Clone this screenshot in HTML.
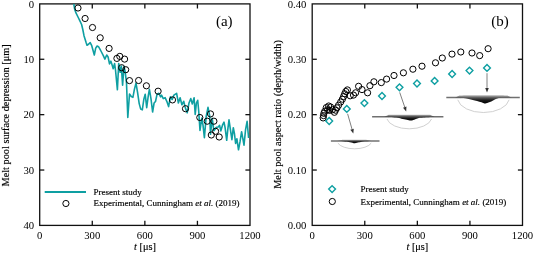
<!DOCTYPE html>
<html><head><meta charset="utf-8"><style>
html,body{margin:0;padding:0;background:#fff;}
body{width:533px;height:254px;overflow:hidden;font-family:"Liberation Serif",serif;}
svg{display:block;will-change:transform;}
</style></head><body>
<svg width="533" height="254" viewBox="0 0 533 254" font-family="Liberation Serif">
<style>text.s{stroke:#000;stroke-width:0.15px;}</style>
<rect width="533" height="254" fill="#fff"/>
<rect x="39.7" y="3.9" width="210.30" height="221.50" fill="none" stroke="#111" stroke-width="1.3"/>
<line x1="92.28" y1="225.4" x2="92.28" y2="220.8" stroke="#111" stroke-width="1.3"/>
<line x1="92.28" y1="3.9" x2="92.28" y2="8.5" stroke="#111" stroke-width="1.3"/>
<line x1="39.7" y1="59.27" x2="44.300000000000004" y2="59.27" stroke="#111" stroke-width="1.3"/>
<line x1="250.0" y1="59.27" x2="245.4" y2="59.27" stroke="#111" stroke-width="1.3"/>
<line x1="144.85" y1="225.4" x2="144.85" y2="220.8" stroke="#111" stroke-width="1.3"/>
<line x1="144.85" y1="3.9" x2="144.85" y2="8.5" stroke="#111" stroke-width="1.3"/>
<line x1="39.7" y1="114.65" x2="44.300000000000004" y2="114.65" stroke="#111" stroke-width="1.3"/>
<line x1="250.0" y1="114.65" x2="245.4" y2="114.65" stroke="#111" stroke-width="1.3"/>
<line x1="197.43" y1="225.4" x2="197.43" y2="220.8" stroke="#111" stroke-width="1.3"/>
<line x1="197.43" y1="3.9" x2="197.43" y2="8.5" stroke="#111" stroke-width="1.3"/>
<line x1="39.7" y1="170.03" x2="44.300000000000004" y2="170.03" stroke="#111" stroke-width="1.3"/>
<line x1="250.0" y1="170.03" x2="245.4" y2="170.03" stroke="#111" stroke-width="1.3"/>
<rect x="312.2" y="3.9" width="210.30" height="221.50" fill="none" stroke="#111" stroke-width="1.3"/>
<line x1="364.77" y1="225.4" x2="364.77" y2="220.8" stroke="#111" stroke-width="1.3"/>
<line x1="364.77" y1="3.9" x2="364.77" y2="8.5" stroke="#111" stroke-width="1.3"/>
<line x1="312.2" y1="59.27" x2="316.8" y2="59.27" stroke="#111" stroke-width="1.3"/>
<line x1="522.5" y1="59.27" x2="517.9" y2="59.27" stroke="#111" stroke-width="1.3"/>
<line x1="417.35" y1="225.4" x2="417.35" y2="220.8" stroke="#111" stroke-width="1.3"/>
<line x1="417.35" y1="3.9" x2="417.35" y2="8.5" stroke="#111" stroke-width="1.3"/>
<line x1="312.2" y1="114.65" x2="316.8" y2="114.65" stroke="#111" stroke-width="1.3"/>
<line x1="522.5" y1="114.65" x2="517.9" y2="114.65" stroke="#111" stroke-width="1.3"/>
<line x1="469.93" y1="225.4" x2="469.93" y2="220.8" stroke="#111" stroke-width="1.3"/>
<line x1="469.93" y1="3.9" x2="469.93" y2="8.5" stroke="#111" stroke-width="1.3"/>
<line x1="312.2" y1="170.03" x2="316.8" y2="170.03" stroke="#111" stroke-width="1.3"/>
<line x1="522.5" y1="170.03" x2="517.9" y2="170.03" stroke="#111" stroke-width="1.3"/>
<text x="39.70" y="238.6" font-size="10.7" text-anchor="middle">0</text>
<text x="312.20" y="238.6" font-size="10.7" text-anchor="middle">0</text>
<text x="92.28" y="238.6" font-size="10.7" text-anchor="middle">300</text>
<text x="364.77" y="238.6" font-size="10.7" text-anchor="middle">300</text>
<text x="144.85" y="238.6" font-size="10.7" text-anchor="middle">600</text>
<text x="417.35" y="238.6" font-size="10.7" text-anchor="middle">600</text>
<text x="197.43" y="238.6" font-size="10.7" text-anchor="middle">900</text>
<text x="469.93" y="238.6" font-size="10.7" text-anchor="middle">900</text>
<text x="250.00" y="238.6" font-size="10.7" text-anchor="middle">1200</text>
<text x="522.50" y="238.6" font-size="10.7" text-anchor="middle">1200</text>
<text x="34.2" y="7.50" font-size="10.7" text-anchor="end">0</text>
<text x="34.2" y="62.88" font-size="10.7" text-anchor="end">10</text>
<text x="34.2" y="118.25" font-size="10.7" text-anchor="end">20</text>
<text x="34.2" y="173.62" font-size="10.7" text-anchor="end">30</text>
<text x="34.2" y="229.00" font-size="10.7" text-anchor="end">40</text>
<text x="306.4" y="229.00" font-size="10.7" text-anchor="end">0.00</text>
<text x="306.4" y="173.62" font-size="10.7" text-anchor="end">0.10</text>
<text x="306.4" y="118.25" font-size="10.7" text-anchor="end">0.20</text>
<text x="306.4" y="62.88" font-size="10.7" text-anchor="end">0.30</text>
<text x="306.4" y="7.50" font-size="10.7" text-anchor="end">0.40</text>
<text class="s" x="145" y="250" font-size="10.3" text-anchor="middle"><tspan font-style="italic">t</tspan> [μs]</text>
<text class="s" x="417.4" y="250" font-size="10.3" text-anchor="middle"><tspan font-style="italic">t</tspan> [μs]</text>
<text class="s" transform="translate(9.2,115.4) rotate(-90)" font-size="10.3" text-anchor="middle">Melt pool surface depression [μm]</text>
<text class="s" transform="translate(281,114.5) rotate(-90)" font-size="10.3" text-anchor="middle">Melt pool aspect ratio (depth/width)</text>
<text x="224.3" y="26" font-size="15" text-anchor="middle">(a)</text>
<text x="500.1" y="26" font-size="15" text-anchor="middle">(b)</text>
<polyline points="73.8,4.0 74.7,9.4 76.1,13.2 78.0,17.0 79.9,20.8 81.6,24.5 82.8,29.5 84.0,35.7 86.1,42.6 87.0,45.3 88.8,44.0 90.2,42.6 91.6,45.3 93.0,50.2 94.3,55.0 95.7,48.1 97.1,46.0 98.5,46.7 99.8,48.8 101.2,51.5 103.3,55.7 104.9,59.1 106.7,55.0 108.1,57.0 109.5,63.9 110.9,61.2 112.2,65.3 113.2,68.7 114.6,63.5 115.5,70.0 117.4,89.8 118.7,63.5 120.2,72.3 121.3,66.0 122.6,85.1 124.0,66.5 125.2,72.0 126.5,83.0 127.8,117.5 129.5,94.0 131.3,96.5 132.9,97.3 134.4,89.4 136.0,83.1 137.6,92.6 139.2,103.6 140.7,109.1 142.3,109.9 143.9,98.9 145.2,94.2 146.7,107.6 148.3,95.7 149.4,89.4 151.0,98.9 152.6,112.0 154.1,103.0 155.5,101.5 157.1,94.2 158.9,93.3 160.6,96.8 161.5,95.1 163.3,98.6 165.1,97.7 166.8,101.3 168.6,106.6 170.4,96.8 172.2,99.5 173.9,95.1 176.6,93.3 178.4,103.0 180.1,97.7 181.9,104.8 183.7,101.3 185.5,108.4 187.2,112.8 189.0,103.0 190.8,98.6 192.3,104.0 194.1,97.7 195.2,114.5 196.4,103.0 197.7,100.3 198.7,111.0 200.0,130.5 201.8,118.0 203.0,125.1 204.4,137.6 206.2,116.3 208.0,107.4 209.7,116.0 210.5,134.3 212.2,118.4 213.9,130.8 216.6,127.2 218.2,127.0 219.6,125.4 220.8,130.9 222.7,124.6 224.0,122.2 225.1,127.7 226.7,140.3 227.8,129.3 229.0,119.9 230.6,130.9 231.9,139.6 233.3,127.7 234.5,134.0 235.6,143.5 236.9,138.8 238.5,149.8 240.0,141.9 241.6,131.7 242.9,138.8 244.0,145.1 245.6,129.3 247.1,121.4 248.6,138.0" fill="none" stroke="#0e9fa2" stroke-width="1.6" stroke-linejoin="round"/>
<circle cx="78" cy="8" r="3.1" fill="none" stroke="#000" stroke-width="1.0"/>
<circle cx="85.1" cy="18.5" r="3.1" fill="none" stroke="#000" stroke-width="1.0"/>
<circle cx="92.5" cy="27.5" r="3.1" fill="none" stroke="#000" stroke-width="1.0"/>
<circle cx="100.2" cy="37.8" r="3.1" fill="none" stroke="#000" stroke-width="1.0"/>
<circle cx="109.1" cy="48.4" r="3.1" fill="none" stroke="#000" stroke-width="1.0"/>
<circle cx="116.9" cy="58.4" r="3.1" fill="none" stroke="#000" stroke-width="1.0"/>
<circle cx="119.8" cy="56.4" r="3.1" fill="none" stroke="#000" stroke-width="1.0"/>
<circle cx="124.6" cy="59.1" r="3.1" fill="none" stroke="#000" stroke-width="1.0"/>
<circle cx="121.6" cy="67.7" r="3.1" fill="none" stroke="#000" stroke-width="1.0"/>
<circle cx="125.7" cy="69.7" r="3.1" fill="none" stroke="#000" stroke-width="1.0"/>
<circle cx="129.5" cy="80.6" r="3.1" fill="none" stroke="#000" stroke-width="1.0"/>
<circle cx="138.6" cy="80.5" r="3.1" fill="none" stroke="#000" stroke-width="1.0"/>
<circle cx="146.4" cy="85.8" r="3.1" fill="none" stroke="#000" stroke-width="1.0"/>
<circle cx="158.1" cy="91.2" r="3.1" fill="none" stroke="#000" stroke-width="1.0"/>
<circle cx="172.5" cy="99.9" r="3.1" fill="none" stroke="#000" stroke-width="1.0"/>
<circle cx="185.5" cy="108.7" r="3.1" fill="none" stroke="#000" stroke-width="1.0"/>
<circle cx="199.8" cy="117.5" r="3.1" fill="none" stroke="#000" stroke-width="1.0"/>
<circle cx="210.5" cy="113.9" r="3.1" fill="none" stroke="#000" stroke-width="1.0"/>
<circle cx="207.2" cy="121.2" r="3.1" fill="none" stroke="#000" stroke-width="1.0"/>
<circle cx="213.9" cy="121.2" r="3.1" fill="none" stroke="#000" stroke-width="1.0"/>
<circle cx="215.6" cy="131.3" r="3.1" fill="none" stroke="#000" stroke-width="1.0"/>
<circle cx="211.3" cy="135" r="3.1" fill="none" stroke="#000" stroke-width="1.0"/>
<circle cx="219.2" cy="137" r="3.1" fill="none" stroke="#000" stroke-width="1.0"/>
<circle cx="323.1" cy="117.9" r="3.1" fill="none" stroke="#000" stroke-width="1.0"/>
<circle cx="323.5" cy="115.6" r="3.1" fill="none" stroke="#000" stroke-width="1.0"/>
<circle cx="323.9" cy="113.3" r="3.1" fill="none" stroke="#000" stroke-width="1.0"/>
<circle cx="324.8" cy="111.2" r="3.1" fill="none" stroke="#000" stroke-width="1.0"/>
<circle cx="326.3" cy="107.6" r="3.1" fill="none" stroke="#000" stroke-width="1.0"/>
<circle cx="327.6" cy="109.8" r="3.1" fill="none" stroke="#000" stroke-width="1.0"/>
<circle cx="328.7" cy="106.0" r="3.1" fill="none" stroke="#000" stroke-width="1.0"/>
<circle cx="329.6" cy="110.4" r="3.1" fill="none" stroke="#000" stroke-width="1.0"/>
<circle cx="330.6" cy="107.0" r="3.1" fill="none" stroke="#000" stroke-width="1.0"/>
<circle cx="332.4" cy="109.8" r="3.1" fill="none" stroke="#000" stroke-width="1.0"/>
<circle cx="334.4" cy="112.3" r="3.1" fill="none" stroke="#000" stroke-width="1.0"/>
<circle cx="335.5" cy="110.2" r="3.1" fill="none" stroke="#000" stroke-width="1.0"/>
<circle cx="337" cy="107.8" r="3.1" fill="none" stroke="#000" stroke-width="1.0"/>
<circle cx="338.6" cy="105.2" r="3.1" fill="none" stroke="#000" stroke-width="1.0"/>
<circle cx="340.7" cy="102" r="3.1" fill="none" stroke="#000" stroke-width="1.0"/>
<circle cx="342.4" cy="99.2" r="3.1" fill="none" stroke="#000" stroke-width="1.0"/>
<circle cx="343.6" cy="96.5" r="3.1" fill="none" stroke="#000" stroke-width="1.0"/>
<circle cx="344.7" cy="93.8" r="3.1" fill="none" stroke="#000" stroke-width="1.0"/>
<circle cx="345.8" cy="91.5" r="3.1" fill="none" stroke="#000" stroke-width="1.0"/>
<circle cx="347.4" cy="89.9" r="3.1" fill="none" stroke="#000" stroke-width="1.0"/>
<circle cx="350.2" cy="95.8" r="3.1" fill="none" stroke="#000" stroke-width="1.0"/>
<circle cx="353.5" cy="95.1" r="3.1" fill="none" stroke="#000" stroke-width="1.0"/>
<circle cx="355.6" cy="92.8" r="3.1" fill="none" stroke="#000" stroke-width="1.0"/>
<circle cx="358.6" cy="86.3" r="3.1" fill="none" stroke="#000" stroke-width="1.0"/>
<circle cx="362" cy="89.6" r="3.1" fill="none" stroke="#000" stroke-width="1.0"/>
<circle cx="367.6" cy="92.8" r="3.1" fill="none" stroke="#000" stroke-width="1.0"/>
<circle cx="369.9" cy="85.7" r="3.1" fill="none" stroke="#000" stroke-width="1.0"/>
<circle cx="373.9" cy="81.8" r="3.1" fill="none" stroke="#000" stroke-width="1.0"/>
<circle cx="381.3" cy="82.6" r="3.1" fill="none" stroke="#000" stroke-width="1.0"/>
<circle cx="386.6" cy="79.1" r="3.1" fill="none" stroke="#000" stroke-width="1.0"/>
<circle cx="394" cy="75.5" r="3.1" fill="none" stroke="#000" stroke-width="1.0"/>
<circle cx="403.4" cy="72.8" r="3.1" fill="none" stroke="#000" stroke-width="1.0"/>
<circle cx="412.9" cy="69.2" r="3.1" fill="none" stroke="#000" stroke-width="1.0"/>
<circle cx="422" cy="66.2" r="3.1" fill="none" stroke="#000" stroke-width="1.0"/>
<circle cx="435.5" cy="62.8" r="3.1" fill="none" stroke="#000" stroke-width="1.0"/>
<circle cx="442.3" cy="58" r="3.1" fill="none" stroke="#000" stroke-width="1.0"/>
<circle cx="452" cy="54.1" r="3.1" fill="none" stroke="#000" stroke-width="1.0"/>
<circle cx="460.8" cy="52" r="3.1" fill="none" stroke="#000" stroke-width="1.0"/>
<circle cx="472" cy="53" r="3.1" fill="none" stroke="#000" stroke-width="1.0"/>
<circle cx="479.7" cy="55.6" r="3.1" fill="none" stroke="#000" stroke-width="1.0"/>
<circle cx="488.1" cy="48.7" r="3.1" fill="none" stroke="#000" stroke-width="1.0"/>
<path d="M329.2 117.6L332.59999999999997 121L329.2 124.4L325.8 121Z" fill="none" stroke="#0e9fa2" stroke-width="1.4"/>
<path d="M346.8 105.5L350.2 108.9L346.8 112.30000000000001L343.40000000000003 108.9Z" fill="none" stroke="#0e9fa2" stroke-width="1.4"/>
<path d="M364.4 99.69999999999999L367.79999999999995 103.1L364.4 106.5L361.0 103.1Z" fill="none" stroke="#0e9fa2" stroke-width="1.4"/>
<path d="M382 92.6L385.4 96L382 99.4L378.6 96Z" fill="none" stroke="#0e9fa2" stroke-width="1.4"/>
<path d="M399.5 83.89999999999999L402.9 87.3L399.5 90.7L396.1 87.3Z" fill="none" stroke="#0e9fa2" stroke-width="1.4"/>
<path d="M417 80.1L420.4 83.5L417 86.9L413.6 83.5Z" fill="none" stroke="#0e9fa2" stroke-width="1.4"/>
<path d="M434.6 77.5L438.0 80.9L434.6 84.30000000000001L431.20000000000005 80.9Z" fill="none" stroke="#0e9fa2" stroke-width="1.4"/>
<path d="M452.1 70.6L455.5 74L452.1 77.4L448.70000000000005 74Z" fill="none" stroke="#0e9fa2" stroke-width="1.4"/>
<path d="M469.5 67.19999999999999L472.9 70.6L469.5 74.0L466.1 70.6Z" fill="none" stroke="#0e9fa2" stroke-width="1.4"/>
<path d="M487 64.5L490.4 67.9L487 71.30000000000001L483.6 67.9Z" fill="none" stroke="#0e9fa2" stroke-width="1.4"/>
<line x1="347.6" y1="113.8" x2="352.06" y2="129.28" stroke="#808080" stroke-width="1"/><path d="M353.3 133.6L350.33 129.77L353.78 128.78Z" fill="#333"/>
<line x1="399.7" y1="92.4" x2="404.74" y2="107.14" stroke="#808080" stroke-width="1"/><path d="M406.2 111.4L403.04 107.72L406.45 106.56Z" fill="#333"/>
<line x1="487" y1="73.2" x2="487.00" y2="87.90" stroke="#808080" stroke-width="1"/><path d="M487 92.4L485.20 87.90L488.80 87.90Z" fill="#333"/>
<defs><linearGradient id="kg" x1="0" y1="0" x2="0" y2="1"><stop offset="0" stop-color="#b5b5b5"/><stop offset="0.3" stop-color="#555"/><stop offset="0.6" stop-color="#1a1a1a"/><stop offset="1" stop-color="#000"/></linearGradient></defs>
<line x1="330.9" y1="140.9" x2="379.5" y2="140.9" stroke="#707070" stroke-width="1.5"/>
<path d="M337.89 143.10 A17.35 7.90 0 0 0 371.21 143.10" fill="none" stroke="#c8c8c8" stroke-width="0.85"/>
<path d="M337.5 141C338.75 141.07 342.92 141.20 345.00 141.40C347.08 141.60 348.37 141.90 350.00 142.20C351.63 142.50 353.30 143.18 354.80 143.20C356.30 143.22 357.63 142.60 359.00 142.30C360.37 142.00 360.98 141.62 363.00 141.40C365.02 141.18 369.75 141.07 371.10 141.00L371.1 141C370.43 140.85 368.27 140.30 367.10 140.10C365.93 139.90 367.87 139.85 364.10 139.80C360.33 139.75 348.27 139.75 344.50 139.80C340.73 139.85 342.67 139.90 341.50 140.10C340.33 140.30 338.17 140.85 337.50 141.00Z" fill="url(#kg)"/>
<line x1="372.1" y1="116.8" x2="443.4" y2="116.8" stroke="#707070" stroke-width="1.5"/>
<path d="M386.98 119.00 A22.65 12.00 0 0 0 431.52 119.00" fill="none" stroke="#c8c8c8" stroke-width="0.85"/>
<path d="M384.3 117.1C386.25 117.18 393.15 117.33 396.00 117.60C398.85 117.87 399.62 118.35 401.40 118.70C403.18 119.05 405.10 119.38 406.70 119.70C408.30 120.02 409.57 120.68 411.00 120.60C412.43 120.52 413.87 119.67 415.30 119.20C416.73 118.73 418.00 118.10 419.60 117.80C421.20 117.50 422.42 117.52 424.90 117.40C427.38 117.28 432.90 117.15 434.50 117.10L434.5 117.1C433.83 116.77 431.67 115.48 430.50 115.10C429.33 114.72 434.03 114.85 427.50 114.80C420.97 114.75 397.83 114.75 391.30 114.80C384.77 114.85 389.47 114.72 388.30 115.10C387.13 115.48 384.97 116.77 384.30 117.10Z" fill="url(#kg)"/>
<line x1="446.3" y1="97.6" x2="519.8" y2="97.6" stroke="#707070" stroke-width="1.5"/>
<path d="M457.78 99.80 A25.95 14.90 0 0 0 509.12 99.80" fill="none" stroke="#c8c8c8" stroke-width="0.85"/>
<path d="M455 97.9C456.92 97.98 463.20 97.95 466.50 98.40C469.80 98.85 472.03 99.85 474.80 100.60C477.57 101.35 481.47 102.43 483.10 102.90C484.73 103.37 484.10 103.33 484.60 103.40C485.10 103.47 484.98 103.63 486.10 103.30C487.22 102.97 489.57 102.17 491.30 101.40C493.03 100.63 495.00 99.28 496.50 98.70C498.00 98.12 497.75 98.05 500.30 97.90C502.85 97.75 509.88 97.82 511.80 97.80L511.8 97.8C511.13 97.45 508.97 96.10 507.80 95.70C506.63 95.30 512.43 95.45 504.80 95.40C497.17 95.35 469.63 95.35 462.00 95.40C454.37 95.45 460.17 95.28 459.00 95.70C457.83 96.12 455.67 97.53 455.00 97.90Z" fill="url(#kg)"/>
<line x1="44.7" y1="192" x2="86" y2="192" stroke="#0e9fa2" stroke-width="1.9"/>
<circle cx="65.9" cy="203.5" r="3.1" fill="none" stroke="#000" stroke-width="1.0"/>
<text class="s" x="93.5" y="195" font-size="9">Present study</text>
<text class="s" x="93.5" y="206.3" font-size="9">Experimental, Cunningham <tspan font-style="italic">et al.</tspan> (2019)</text>
<path d="M332.1 185.7L335.5 189.1L332.1 192.5L328.70000000000005 189.1Z" fill="none" stroke="#0e9fa2" stroke-width="1.4"/>
<circle cx="332.3" cy="201.5" r="3.1" fill="none" stroke="#000" stroke-width="1.0"/>
<text class="s" x="360.4" y="191.9" font-size="9">Present study</text>
<text class="s" x="360.4" y="204.6" font-size="9">Experimental, Cunningham <tspan font-style="italic">et al.</tspan> (2019)</text>
</svg>
</body></html>
